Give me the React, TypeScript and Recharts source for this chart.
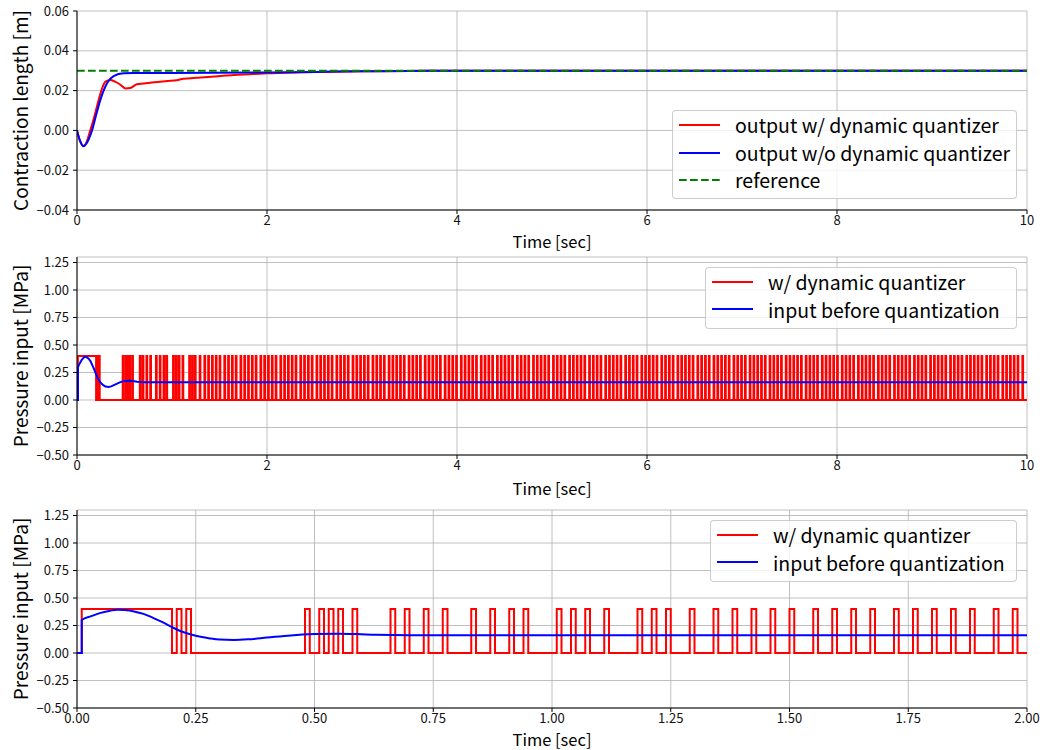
import React from 'react';
import { LineChart, Line, XAxis, YAxis, CartesianGrid, Legend } from 'recharts';

const FONT = "'Noto Sans CJK JP', 'Noto Sans', sans-serif";

// ---------- Plot 1: contraction length ----------
const p1Ticks = [-0.04, -0.02, 0, 0.02, 0.04, 0.06];
const p1XTicks = [0, 2, 4, 6, 8, 10];
const outQT = [0, 0.03, 0.07, 0.1, 0.14, 0.18, 0.21, 0.245, 0.3, 0.35, 0.4, 0.45, 0.51, 0.56, 0.63, 0.7, 0.77, 0.85, 0.95, 1.05, 1.12, 1.2, 1.3, 1.45, 1.65, 1.85, 2.0, 2.35, 2.7, 3.0, 3.5, 4.0, 5, 6, 7, 8, 9, 10];
const outQV = [0, -0.005, -0.0078, -0.006, 0, 0.0065, 0.012, 0.0183, 0.0245, 0.0253, 0.0245, 0.0232, 0.0211, 0.0213, 0.0232, 0.0236, 0.024, 0.0243, 0.0248, 0.0252, 0.026, 0.0262, 0.0266, 0.0271, 0.0279, 0.0283, 0.0287, 0.0292, 0.0295, 0.0297, 0.0299, 0.03, 0.03, 0.03, 0.03, 0.03, 0.03, 0.03];
const outNT = [0, 0.03, 0.07, 0.1, 0.158, 0.2, 0.245, 0.316, 0.385, 0.49, 0.6, 1.0, 2.0, 2.5, 3.0, 3.5, 4.0, 6, 8, 10];
const outNV = [0, -0.005, -0.008, -0.0065, 0, 0.0075, 0.0152, 0.0237, 0.0273, 0.0287, 0.0288, 0.0289, 0.0291, 0.0294, 0.0297, 0.0299, 0.03, 0.03, 0.03, 0.03];
const refT = [0, 10];
const refV = [0.03, 0.03];

// ---------- Plots 2/3: pressure input ----------
const pTicks = [-0.5, -0.25, 0, 0.25, 0.5, 0.75, 1.0, 1.25];
const p3XTicks = [0, 0.25, 0.5, 0.75, 1.0, 1.25, 1.5, 1.75, 2.0];
const quantLow = 0;
const quantHigh = 0.4;
// pulse rise / fall times (in 1/100 s), first two seconds
const pulseOn = [1, 21, 23, 48, 51, 53, 55, 58, 66, 69, 73, 77, 83, 87, 91, 94, 101, 104, 107, 111, 118, 121, 124, 129, 134, 138, 142, 146, 150, 155, 159, 163, 167, 172, 176, 180, 184, 188, 193, 197];
const pulseOff = [20, 22, 24, 49, 52, 54, 56, 59, 67, 70, 74, 78, 84, 88, 92, 95, 102, 105, 108, 112, 119, 122, 125, 130, 135, 139, 143, 147, 151, 156, 160, 164, 168, 173, 177, 181, 185, 189, 194, 198];
// pulse rise times (in 1/100 s) from 2 s to 10 s, each one sample (0.01 s) wide
const pulseOnLate = [201, 205, 209, 214, 218, 222, 226, 230, 235, 239, 243, 247, 252, 256, 260, 264, 268, 273, 277, 281, 285, 290, 294, 298, 302, 306, 311, 315, 319, 323, 328, 332, 336, 340, 344, 349, 353, 357, 361, 366, 370, 374, 378, 382, 387, 391, 395, 399, 404, 408, 412, 416, 420, 425, 429, 433, 437, 442, 446, 450, 454, 458, 463, 467, 471, 475, 480, 484, 488, 492, 496, 501, 505, 509, 513, 518, 522, 526, 530, 534, 539, 543, 547, 551, 556, 560, 564, 568, 572, 577, 581, 585, 589, 594, 598, 602, 606, 610, 615, 619, 623, 627, 632, 636, 640, 644, 648, 653, 657, 661, 665, 670, 674, 678, 682, 686, 691, 695, 699, 703, 708, 712, 716, 720, 724, 729, 733, 737, 741, 746, 750, 754, 758, 762, 767, 771, 775, 779, 784, 788, 792, 796, 800, 805, 809, 813, 817, 822, 826, 830, 834, 838, 843, 847, 851, 855, 860, 864, 868, 872, 876, 881, 885, 889, 893, 898, 902, 906, 910, 914, 919, 923, 927, 931, 936, 940, 944, 948, 952, 957, 961, 965, 969, 974, 978, 982, 986, 990, 995];
const pulseLateWidth = 1;
const inT = [0, 0.01, 0.01, 0.03, 0.05, 0.07, 0.085, 0.1, 0.12, 0.14, 0.16, 0.18, 0.2, 0.22, 0.24, 0.26, 0.28, 0.3, 0.33, 0.36, 0.4, 0.45, 0.5, 0.55, 0.59, 0.63, 0.7, 1.0, 2.0, 5.0, 10];
const inV = [0, 0, 0.3, 0.335, 0.365, 0.385, 0.394, 0.39, 0.378, 0.356, 0.32, 0.28, 0.235, 0.195, 0.168, 0.147, 0.132, 0.122, 0.119, 0.124, 0.14, 0.16, 0.172, 0.176, 0.172, 0.165, 0.161, 0.162, 0.162, 0.162, 0.162];

const zip = (t: number[], v: number[]) => t.map((x, i) => ({ t: x, v: v[i] }));

const buildQuant = () => {
  const on = [...pulseOn, ...pulseOnLate];
  const off = [...pulseOff, ...pulseOnLate.map((x) => x + pulseLateWidth)];
  const pts: { t: number; v: number }[] = [{ t: 0, v: quantLow }];
  on.forEach((a, i) => {
    const b = off[i];
    pts.push({ t: a / 100, v: quantLow }, { t: a / 100, v: quantHigh }, { t: b / 100, v: quantHigh }, { t: b / 100, v: quantLow });
  });
  pts.push({ t: 10, v: quantLow });
  return pts;
};

const quant10 = buildQuant();
const quant2 = [...quant10.filter((p) => p.t <= 2), { t: 2, v: quantLow }];
const input10 = zip(inT, inV);
const input2 = [...input10.filter((p) => p.t <= 2), { t: 2, v: 0.162 }];
const outQ = zip(outQT, outQV);
const outN = zip(outNT, outNV);
const refData = zip(refT, refV);

const fmt2 = (v: number) => (Math.abs(v) < 1e-9 ? '0.00' : (v < 0 ? '\u2212' : '') + Math.abs(v).toFixed(2));
const fmtInt = (v: number) => String(Math.round(v));

const tickStyle = { fontSize: 13, fill: '#111', fontFamily: FONT };

type Item = { label: string; color: string; dash?: boolean };

const LegendBox = ({ items, width, height, rowH }: { items: Item[]; width: number; height: number; rowH: number }) => (
  <div
    style={{
      width,
      height,
      boxSizing: 'border-box',
      border: '1px solid rgba(200,200,200,0.9)',
      borderRadius: 4,
      background: 'rgba(255,255,255,0.8)',
      paddingTop: 0,
      fontFamily: FONT,
      fontSize: 19.5,
      color: '#000',
    }}
  >
    {items.map((it) => (
      <div key={it.label} style={{ height: rowH, display: 'flex', alignItems: 'center' }}>
        <svg width={62} height={20} style={{ flex: 'none' }}>
          <line x1={6} x2={47} y1={10} y2={10} stroke={it.color} strokeWidth={2} strokeDasharray={it.dash ? '7.7 3.3' : undefined} />
        </svg>
        <span style={{ whiteSpace: 'nowrap', lineHeight: 1 }}>{it.label}</span>
      </div>
    ))}
  </div>
);

const yTitle = (text: string, cy: number) => () => (
  <text x={19} y={cy} transform={`rotate(-90, 19, ${cy})`} textAnchor="middle" dominantBaseline="central" fontSize={19} fontFamily={FONT} fill="#000">
    {text}
  </text>
);
const xTitle = (text: string, cy: number) => () => (
  <text x={552} y={cy} textAnchor="middle" dominantBaseline="central" fontSize={16.5} fontFamily={FONT} fill="#000">
    {text}
  </text>
);

export default function App() {
  const common = {
    tickLine: { stroke: '#000' },
    axisLine: { stroke: '#000', strokeWidth: 1 },
    tickSize: 4,
  };
  return (
    <div style={{ position: 'absolute', left: 0, top: 0, width: 1044, height: 750, background: '#fff', fontFamily: FONT, overflow: 'hidden' }}>
      {/* Plot 1 */}
      <div style={{ position: 'absolute', left: 0, top: 0 }}>
        <LineChart width={1044} height={256} margin={{ top: 11, right: 17, left: 0, bottom: 6 }}>
          <CartesianGrid stroke="#b0b0b0" strokeWidth={0.8} />
          <XAxis type="number" dataKey="t" domain={[0, 10]} ticks={p1XTicks} tickFormatter={fmtInt} allowDataOverflow height={40} tick={tickStyle} tickMargin={2} {...common} label={xTitle('Time [sec]', 241)} />
          <XAxis xAxisId="top" orientation="top" type="number" dataKey="t" domain={[0, 10]} height={0} tick={false} tickLine={false} axisLine={{ stroke: '#000' }} />
          <YAxis type="number" domain={[-0.04, 0.06]} ticks={p1Ticks} tickFormatter={fmt2} allowDataOverflow width={77} tick={tickStyle} tickMargin={4} {...common} label={yTitle('Contraction length [m]', 110.5)} />
          <YAxis yAxisId="right" orientation="right" width={0} tick={false} tickLine={false} axisLine={{ stroke: '#000' }} />
          <Line data={outQ} dataKey="v" stroke="#ff0000" strokeWidth={2} dot={false} isAnimationActive={false} type="monotone" />
          <Line data={outN} dataKey="v" stroke="#0000ff" strokeWidth={2} dot={false} isAnimationActive={false} type="monotone" />
          <Line data={refData} dataKey="v" stroke="#008000" strokeWidth={2} strokeDasharray="7.7 3.3" dot={false} isAnimationActive={false} type="linear" />
          <Legend
            layout="vertical"
            align="center"
            verticalAlign="middle"
            wrapperStyle={{ left: 672, top: 110, width: 345, height: 89 }}
            content={() => (
              <LegendBox
                width={345}
                height={89}
                rowH={27.7}
                items={[
                  { label: 'output w/ dynamic quantizer', color: '#ff0000' },
                  { label: 'output w/o dynamic quantizer', color: '#0000ff' },
                  { label: 'reference', color: '#008000', dash: true },
                ]}
              />
            )}
          />
        </LineChart>
      </div>

      {/* Plot 2 */}
      <div style={{ position: 'absolute', left: 0, top: 250 }}>
        <LineChart width={1044} height={256} margin={{ top: 7, right: 17, left: 0, bottom: 6 }}>
          <CartesianGrid stroke="#b0b0b0" strokeWidth={0.8} />
          <XAxis type="number" dataKey="t" domain={[0, 10]} ticks={p1XTicks} tickFormatter={fmtInt} allowDataOverflow height={45} tick={tickStyle} tickMargin={2} {...common} label={xTitle('Time [sec]', 238)} />
          <XAxis xAxisId="top" orientation="top" type="number" dataKey="t" domain={[0, 10]} height={0} tick={false} tickLine={false} axisLine={{ stroke: '#000' }} />
          <YAxis type="number" domain={[-0.5, 1.3]} ticks={pTicks} tickFormatter={fmt2} allowDataOverflow width={77} tick={tickStyle} tickMargin={4} {...common} label={yTitle('Pressure input [MPa]', 106)} />
          <YAxis yAxisId="right" orientation="right" width={0} tick={false} tickLine={false} axisLine={{ stroke: '#000' }} />
          <Line data={quant10} dataKey="v" stroke="#ff0000" strokeWidth={1.8} dot={false} isAnimationActive={false} type="linear" />
          <Line data={input10} dataKey="v" stroke="#0000ff" strokeWidth={2} dot={false} isAnimationActive={false} type="linear" />
          <Legend
            layout="vertical"
            align="center"
            verticalAlign="middle"
            wrapperStyle={{ left: 705, top: 17, width: 312, height: 62 }}
            content={() => (
              <LegendBox
                width={312}
                height={62}
                rowH={27.5}
                items={[
                  { label: 'w/ dynamic quantizer', color: '#ff0000' },
                  { label: 'input before quantization', color: '#0000ff' },
                ]}
              />
            )}
          />
        </LineChart>
      </div>

      {/* Plot 3 */}
      <div style={{ position: 'absolute', left: 0, top: 500 }}>
        <LineChart width={1044} height={256} margin={{ top: 10, right: 17, left: 0, bottom: 6 }}>
          <CartesianGrid stroke="#b0b0b0" strokeWidth={0.8} />
          <XAxis type="number" dataKey="t" domain={[0, 2]} ticks={p3XTicks} tickFormatter={fmt2} allowDataOverflow height={42} tick={tickStyle} tickMargin={2} {...common} label={xTitle('Time [sec]', 239)} />
          <XAxis xAxisId="top" orientation="top" type="number" dataKey="t" domain={[0, 2]} height={0} tick={false} tickLine={false} axisLine={{ stroke: '#000' }} />
          <YAxis type="number" domain={[-0.5, 1.3]} ticks={pTicks} tickFormatter={fmt2} allowDataOverflow width={77} tick={tickStyle} tickMargin={4} {...common} label={yTitle('Pressure input [MPa]', 109)} />
          <YAxis yAxisId="right" orientation="right" width={0} tick={false} tickLine={false} axisLine={{ stroke: '#000' }} />
          <Line data={quant2} dataKey="v" stroke="#ff0000" strokeWidth={2} dot={false} isAnimationActive={false} type="linear" />
          <Line data={input2} dataKey="v" stroke="#0000ff" strokeWidth={2} dot={false} isAnimationActive={false} type="monotone" />
          <Legend
            layout="vertical"
            align="center"
            verticalAlign="middle"
            wrapperStyle={{ left: 710, top: 20, width: 307, height: 62 }}
            content={() => (
              <LegendBox
                width={307}
                height={62}
                rowH={27.5}
                items={[
                  { label: 'w/ dynamic quantizer', color: '#ff0000' },
                  { label: 'input before quantization', color: '#0000ff' },
                ]}
              />
            )}
          />
        </LineChart>
      </div>
    </div>
  );
}
